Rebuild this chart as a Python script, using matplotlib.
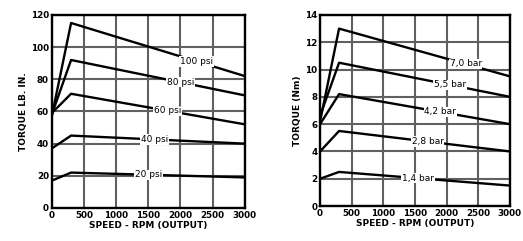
import matplotlib.pyplot as plt

rpm = [0, 300, 3000]

psi_labels = ["100 psi", "80 psi", "60 psi", "40 psi", "20 psi"]
psi_torque = [
    [57, 115, 82],
    [58, 92, 70],
    [59, 71, 52],
    [37, 45, 40],
    [17, 22, 19],
]
psi_label_x = [2250, 2000, 1800, 1600, 1500]

bar_labels = ["7,0 bar", "5,5 bar", "4,2 bar", "2,8 bar", "1,4 bar"]
bar_torque = [
    [6.2, 13.0, 9.5],
    [6.6, 10.5, 8.0],
    [6.0, 8.2, 6.0],
    [4.0, 5.5, 4.0],
    [2.0, 2.5, 1.5],
]
bar_label_x = [2300, 2050, 1900, 1700, 1550]

x_ticks = [0, 500, 1000, 1500, 2000, 2500, 3000]


def interp(x, xs, ys):
    for i in range(len(xs) - 1):
        if xs[i] <= x <= xs[i + 1]:
            t = (x - xs[i]) / (xs[i + 1] - xs[i])
            return ys[i] + t * (ys[i + 1] - ys[i])
    return ys[-1]


def draw_panel(ax, curves, labels, label_x, ymax, ystep, ylabel):
    for ys, lab, lx in zip(curves, labels, label_x):
        ax.plot(rpm, ys, color="black", lw=1.7, zorder=3)
        ax.text(lx, interp(lx, rpm, ys), lab, fontsize=6.5, ha="center", va="center",
                zorder=4, bbox=dict(facecolor="white", edgecolor="none", pad=0.5))
    ax.set_xlim(0, 3000)
    ax.set_ylim(0, ymax)
    ax.set_xticks(x_ticks)
    ax.set_yticks(range(0, ymax + 1, ystep))
    ax.grid(True, color="#606060", lw=1.5)
    ax.set_axisbelow(True)
    ax.tick_params(labelsize=6.3, length=0, pad=2)
    for lbl in ax.get_xticklabels() + ax.get_yticklabels():
        lbl.set_fontweight("bold")
    for sp in ax.spines.values():
        sp.set_linewidth(1.7)
    ax.set_xlabel("SPEED - RPM (OUTPUT)", fontsize=6.5, fontweight="bold", labelpad=1)
    ax.set_ylabel(ylabel, fontsize=6.5, fontweight="bold", labelpad=2)


fig = plt.figure(figsize=(5.23, 2.41), dpi=100)
ax1 = fig.add_axes([0.099, 0.137, 0.369, 0.801])
ax2 = fig.add_axes([0.612, 0.145, 0.363, 0.793])

draw_panel(ax1, psi_torque, psi_labels, psi_label_x, 120, 20, "TORQUE LB. IN.")
draw_panel(ax2, bar_torque, bar_labels, bar_label_x, 14, 2, "TORQUE (Nm)")

fig.savefig("out.png", dpi=100)
